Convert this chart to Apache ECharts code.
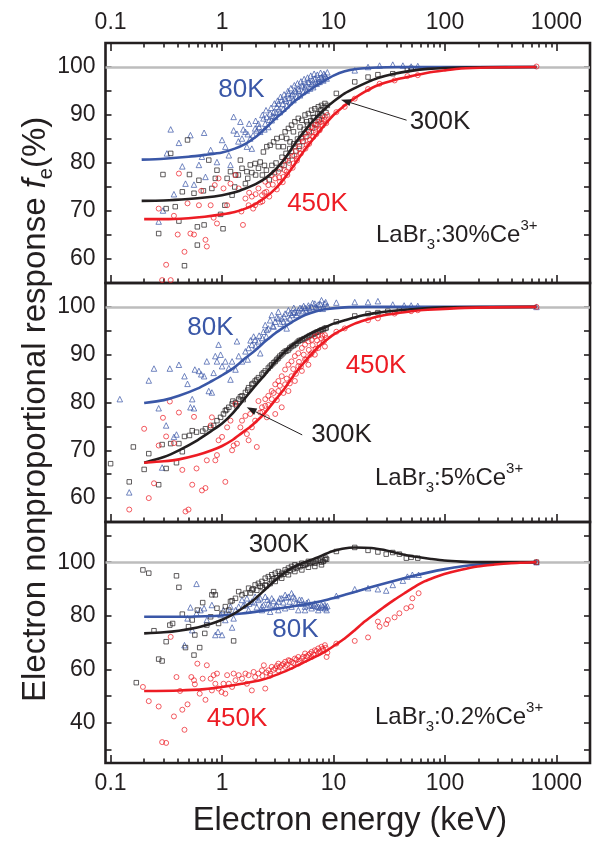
<!DOCTYPE html>
<html>
<head>
<meta charset="utf-8">
<script src="https://cdn.jsdelivr.net/npm/echarts@6/dist/echarts.min.js"></script>
<style>
  html, body { margin: 0; padding: 0; background: #fff; }
  #main { width: 597px; height: 845px; }
</style>
</head>
<body>
<div id="main"></div>
<script>
// ---- axis ticks / labels ----
var majorTicks = [0.1, 1, 10, 100, 1000];
var minorTicks = [0.2, 0.3, 0.4, 0.5, 0.6, 0.7, 0.8, 0.9,
  2, 3, 4, 5, 6, 7, 8, 9, 20, 30, 40, 50, 60, 70, 80, 90,
  200, 300, 400, 500, 600, 700, 800, 900];
var yTicksTop = [60, 65, 70, 75, 80, 85, 90, 95, 100];
var yLabelsTop = [60, 70, 80, 90, 100];
var yTicksBottom = [30, 40, 50, 60, 70, 80, 90, 100, 110];
var yLabelsBottom = [40, 60, 80, 100];

// ---- LaBr3:30%Ce (panel 1) ----
var p1_80K = [[0.346,87.0],[0.32,82.0],[0.41,84.2],[0.52,85.8],[0.69,86.3],[0.44,79.3],[0.47,75.7],[0.56,75.5],[0.37,73.5],[0.295,70.1],[0.27,67.8],[0.66,81.3],[0.79,82.7],[0.71,77.1],[0.62,79.6],[0.9,80.2],[1.0,84.8],[1.07,83.4],[1.15,81.6],[1.19,79.6],[1.27,89.6],[1.27,86.8],[1.36,86.1],[1.46,88.6],[1.51,85.1],[1.62,86.5],[1.67,83.4],[1.79,85.1],[1.85,83.0],[1.98,87.2],[2.12,88.2],[2.35,89.3],[2.52,89.6],[2.7,90.3],[2.9,90.6],[3.1,91.7],[3.2,92.4],[3.43,93.1],[3.68,93.4],[3.94,94.5],[4.2,94.1],[4.5,95.1],[4.83,95.5],[5.2,96.2],[5.55,95.8],[5.95,96.9],[6.36,96.5],[6.8,97.6],[7.3,96.9],[7.8,97.9],[8.37,98.3],[8.67,97.6],[2.79,88.9],[3.3,90.6],[3.8,92.0],[4.37,93.1],[5.0,94.1],[5.75,95.1],[6.58,95.8],[7.5,96.9],[3.55,91.3],[4.07,92.7],[4.67,93.8],[5.35,94.8],[6.15,95.5],[7.05,96.5],[8.1,97.2],[2.44,88.2],[3.0,89.6],[2.2,86.5],[2.6,87.5],[1.4,84.5],[1.55,87.0],[1.7,86.0],[1.75,88.2],[1.9,85.8],[2.0,88.8],[2.05,86.8],[2.15,87.5],[2.3,90.0],[2.4,87.0],[2.48,91.0],[2.65,89.0],[2.75,91.5],[2.85,89.8],[2.95,92.4],[3.05,90.5],[3.15,93.0],[3.25,91.2],[3.35,93.8],[3.5,92.3],[3.6,94.3],[3.75,93.0],[3.9,95.0],[4.0,93.6],[4.15,95.6],[4.3,94.4],[4.45,96.2],[4.6,94.9],[4.75,96.6],[4.9,95.1],[5.1,97.0],[5.3,96.0],[5.45,97.5],[5.65,96.4],[5.85,97.8],[6.05,96.8],[6.25,98.2],[6.45,97.3],[6.7,98.6],[6.9,97.0],[7.15,98.4],[7.4,97.6],[7.65,98.8],[7.9,97.4],[8.2,98.6],[8.5,98.0],[8.8,98.9],[15.5,99.3],[20.4,100],[25.9,100.3],[34,100.5],[41.9,100.3],[49.7,100.1],[57,100.2]];
var p1_300K = [[0.346,82.0],[0.295,77.6],[0.27,65.3],[0.315,70.5],[0.38,70.9],[0.41,67.9],[0.46,58.6],[0.44,74.0],[0.49,84.8],[0.51,77.6],[0.6,62.9],[0.6,66.7],[0.69,67.1],[0.56,73.7],[0.62,76.4],[0.68,74.2],[0.76,80.6],[0.81,74.7],[0.87,76.8],[0.9,78.5],[0.97,69.3],[1.02,66.3],[1.06,71.2],[1.11,76.8],[1.19,78.2],[1.23,73.3],[1.3,75.0],[1.32,77.5],[1.4,77.5],[1.46,80.6],[1.51,78.9],[1.62,75.7],[1.67,78.2],[1.7,76.8],[1.79,79.6],[1.85,78.0],[1.98,79.9],[2.0,77.5],[2.12,78.9],[2.2,80.2],[2.35,82.3],[2.4,79.5],[2.52,83.4],[2.7,83.7],[2.9,84.4],[3.1,85.1],[3.2,83.4],[3.43,85.4],[3.68,86.5],[3.94,87.2],[4.2,87.9],[4.5,88.6],[4.83,89.3],[5.2,88.9],[5.55,90.0],[5.95,90.3],[6.36,91.0],[6.8,91.3],[7.3,91.7],[7.8,92.0],[8.37,92.4],[3.8,85.1],[4.37,86.5],[5.0,87.5],[5.75,88.6],[6.58,89.4],[7.5,90.3],[3.55,83.4],[4.07,84.4],[2.3,77.5],[2.5,78.5],[2.65,76.5],[2.8,79.5],[2.95,78.0],[3.05,80.0],[3.3,78.8],[3.45,81.2],[3.6,79.5],[3.75,82.0],[3.9,80.5],[4.05,83.0],[4.25,81.5],[4.4,84.0],[4.6,82.5],[4.75,85.0],[4.95,83.5],[5.1,86.0],[5.3,84.5],[5.45,87.0],[5.65,85.5],[5.85,88.0],[6.05,86.5],[6.25,88.8],[6.5,87.3],[6.7,89.5],[6.95,88.0],[7.2,90.3],[7.45,89.0],[7.7,91.0],[7.95,89.8],[8.25,91.6],[8.55,90.5],[8.8,92.0],[10.6,94.5],[15.5,96.9],[20.4,97.9],[25,98.4],[34,98.6],[46,99.4],[49.7,99.7]];
var p1_450K = [[0.27,70.5],[0.315,58.8],[0.29,55.6],[0.346,55.6],[0.37,69.0],[0.4,65.1],[0.41,77.8],[0.46,61.5],[0.49,71.6],[0.52,65.3],[0.56,65.1],[0.62,71.2],[0.65,74.2],[0.71,64.0],[0.73,62.6],[0.79,71.2],[0.84,68.6],[0.86,75.4],[0.9,67.4],[0.93,76.8],[1.03,74.7],[1.11,71.2],[1.19,75.7],[1.32,77.5],[1.41,74.7],[1.49,69.9],[1.54,67.1],[1.62,72.6],[1.73,71.2],[1.75,73.8],[1.85,73.0],[1.9,70.5],[1.98,71.2],[2.0,73.5],[2.12,74.7],[2.2,71.8],[2.28,73.3],[2.4,73.8],[2.44,76.1],[2.6,75.4],[2.79,77.5],[3.0,76.8],[3.2,78.2],[3.43,79.6],[3.68,80.6],[3.94,81.3],[4.2,82.3],[4.5,83.4],[4.83,84.4],[5.2,85.1],[5.55,86.1],[5.95,86.8],[6.36,87.5],[6.8,87.9],[7.3,88.6],[7.8,89.1],[8.37,89.6],[10.6,90.6],[3.3,76.1],[3.8,78.2],[4.37,79.9],[5.0,82.0],[5.75,83.7],[6.58,85.4],[7.5,86.8],[3.55,77.1],[4.67,80.9],[6.15,84.8],[2.3,72.0],[2.5,74.0],[2.65,73.0],[2.85,75.5],[3.1,74.5],[3.25,77.0],[3.5,76.0],[3.65,78.5],[3.85,77.5],[4.0,80.0],[4.3,79.0],[4.45,81.5],[4.7,80.5],[4.9,83.0],[5.1,82.0],[5.35,84.5],[5.6,83.0],[5.8,85.5],[6.05,84.0],[6.3,86.5],[6.55,85.5],[6.75,87.3],[7.0,86.0],[7.2,88.0],[7.5,87.0],[7.7,88.5],[8.0,87.8],[8.3,89.0],[8.6,88.3],[8.8,90.0],[12.6,91.7],[15.5,93.4],[20.4,95.4],[25.9,96.5],[35.3,97.2],[46,98.1],[57,98.3],[662,100.1]];
var p1_80K_fit = [[0.19,80.7],[0.3,80.9],[0.5,81.3],[0.7,81.7],[1,82.2],[1.3,83.0],[1.62,84.0],[2,85.4],[2.44,87.2],[3,89.2],[3.68,91.0],[4.5,92.9],[5.55,94.5],[7,96.1],[8.37,97.2],[10,98.2],[12.6,99.1],[16,99.6],[20.4,99.8],[30,99.95],[50,100],[662,100]];
var p1_300K_fit = [[0.19,72.1],[0.3,72.2],[0.5,72.5],[0.7,72.8],[1,73.3],[1.3,73.9],[1.62,74.7],[2,75.6],[2.44,76.8],[3,78.6],[3.68,81.0],[4.5,84.0],[5.55,86.8],[7,89.5],[8.37,91.3],[10,92.8],[12.6,94.5],[15.5,95.6],[20,96.8],[25,97.7],[35,98.6],[49.7,99.2],[70,99.6],[98.6,99.8],[200,99.95],[662,100]];
var p1_450K_fit = [[0.2,68.3],[0.3,68.3],[0.5,68.5],[0.7,68.8],[1,69.3],[1.3,69.8],[1.62,70.5],[2,71.5],[2.44,72.8],[3,74.6],[3.68,77.0],[4.5,79.8],[5.55,82.8],[7,85.8],[8.37,88.0],[10,90.0],[12.6,92.0],[15.5,93.5],[19,94.8],[25,96.2],[35.3,97.3],[50,98.1],[70,98.8],[100,99.3],[139,99.7],[250,99.9],[662,100]];

// ---- LaBr3:5%Ce (panel 2) ----
var p2_80K = [[0.121,80.7],[0.147,61.2],[0.22,84.6],[0.245,87.1],[0.27,78.8],[0.315,75.2],[0.34,87.1],[0.37,72.8],[0.39,73.3],[0.29,66.4],[0.41,87.9],[0.46,85.5],[0.49,83.9],[0.52,79.0],[0.56,78.8],[0.54,80.7],[0.57,86.9],[0.62,86.6],[0.65,85.9],[0.69,85.5],[0.73,88.6],[0.76,82.4],[0.81,82.1],[0.84,86.2],[0.87,89.7],[0.9,88.6],[0.93,92.1],[0.97,90.0],[1,87.6],[1.07,88.6],[1.15,87.2],[1.19,84.8],[1.23,88.6],[1.32,86.9],[1.36,92.8],[1.41,89.7],[1.51,88.6],[1.62,90.7],[1.7,89.0],[1.73,91.4],[1.8,93.0],[1.85,92.1],[1.92,93.8],[1.98,93.1],[2.0,91.8],[2.12,92.8],[2.15,94.0],[2.2,90.3],[2.3,93.5],[2.35,94.8],[2.44,96.2],[2.5,93.8],[2.52,95.2],[2.6,95.5],[2.7,97.2],[2.79,98.3],[2.85,96.0],[2.9,95.9],[3.0,96.9],[3.1,97.8],[3.2,99.0],[3.35,96.5],[3.43,97.6],[3.6,98.0],[3.68,98.6],[3.8,95.5],[3.85,97.0],[3.94,99.3],[4.1,98.8],[4.2,98.3],[4.4,99.8],[4.5,99.0],[4.75,98.8],[4.83,99.3],[5.0,99.8],[5.2,99.7],[5.4,100.2],[5.55,99.8],[5.7,99.3],[5.95,100.3],[6.0,99.8],[6.36,100],[6.5,100.8],[6.8,100.7],[6.9,100.0],[7.2,99.6],[7.3,100.5],[7.6,100.6],[7.8,101.4],[8.0,99.6],[8.37,100.7],[8.5,101.0],[8.8,100.2],[3.2,97.6],[3.55,96.9],[4.07,97.6],[4.37,98.8],[4.67,98.3],[5.35,99.1],[6.15,99.5],[7.05,99.8],[8.1,100],[10.6,100.9],[15.5,101.0],[20.4,101.0],[25,101.2],[34,100.5],[43,100.3],[49.7,100.3],[57,100.2],[662,100]];
var p2_300K = [[0.1,67.2],[0.147,63.4],[0.16,70.7],[0.2,66.0],[0.22,69.3],[0.27,62.8],[0.29,71.2],[0.315,66.2],[0.346,71.4],[0.39,67.4],[0.41,71.4],[0.44,69.7],[0.46,72.9],[0.51,73.1],[0.54,74.1],[0.59,73.8],[0.67,74.0],[0.71,74.5],[0.79,74.8],[0.84,75.2],[0.9,76.2],[0.97,76.9],[1.03,77.6],[1.07,78.3],[1.1,78.5],[1.15,79.0],[1.23,79.7],[1.25,80.3],[1.32,80.0],[1.35,79.3],[1.41,80.7],[1.46,81.2],[1.51,81.4],[1.55,80.6],[1.62,82.1],[1.7,82.6],[1.73,83.1],[1.85,83.8],[1.9,84.0],[1.98,84.5],[2.05,84.8],[2.12,85.2],[2.28,85.9],[2.35,86.2],[2.44,86.6],[2.6,87.2],[2.7,87.6],[2.79,87.9],[2.9,88.3],[3.0,88.6],[3.1,89.0],[3.2,89.3],[3.3,89.7],[3.43,90.0],[3.55,90.4],[3.68,90.7],[3.8,90.8],[3.94,91.0],[4.05,91.4],[4.2,91.7],[4.35,91.9],[4.5,92.1],[4.65,92.4],[4.83,92.8],[5.0,93.0],[5.2,93.1],[5.4,93.3],[5.55,93.4],[5.75,93.6],[5.95,93.8],[6.15,94.0],[6.36,94.1],[6.6,94.3],[6.8,94.5],[7.05,94.7],[7.3,94.8],[7.55,95.0],[7.8,95.2],[8.1,95.3],[8.37,95.5],[8.6,95.6],[10.6,96.9],[15.5,98.1],[20.4,98.6],[25,98.8],[30.7,99.1],[39,99.3]];
var p2_450K = [[0.147,57.6],[0.2,74.5],[0.22,60.0],[0.245,63.1],[0.27,71.0],[0.295,76.8],[0.315,72.9],[0.34,80.2],[0.37,71.5],[0.41,77.9],[0.44,65.9],[0.47,57.2],[0.5,57.6],[0.54,62.8],[0.56,77.0],[0.59,66.2],[0.66,61.6],[0.71,62.1],[0.73,67.9],[0.79,75.2],[0.81,76.9],[0.87,67.9],[0.9,69.0],[0.93,72.1],[1,72.8],[1.07,63.4],[1.11,74.8],[1.19,76.2],[1.23,70.0],[1.27,71.0],[1.32,79.7],[1.36,71.4],[1.46,74.8],[1.51,76.2],[1.62,77.2],[1.67,73.4],[1.73,72.1],[1.79,77.6],[1.85,74.8],[1.98,76.2],[2.05,70.7],[2.12,80.3],[2.2,77.9],[2.28,79.0],[2.3,78.0],[2.44,80.7],[2.52,76.9],[2.6,81.4],[2.6,79.5],[2.79,82.4],[2.9,82.0],[3.0,83.8],[3.1,80.5],[3.2,84.5],[3.3,83.5],[3.43,85.5],[3.55,82.0],[3.68,86.9],[3.8,85.0],[3.94,87.9],[4.05,84.0],[4.2,88.6],[4.35,87.0],[4.5,89.7],[4.6,86.0],[4.83,90.3],[4.9,88.5],[5.1,87.5],[5.2,91.4],[5.4,90.0],[5.55,92.1],[5.7,89.0],[5.95,92.8],[6.0,91.0],[6.2,90.0],[6.36,93.1],[6.5,92.0],[6.8,93.8],[6.9,91.2],[7.1,93.0],[7.3,94.1],[7.5,92.2],[7.8,93.4],[7.9,94.0],[8.2,92.8],[8.37,94.1],[8.6,93.5],[2.44,79.3],[2.79,80.7],[3.2,82.4],[3.68,83.8],[4.2,85.5],[4.83,87.6],[5.55,89.0],[6.36,90.3],[7.3,91.4],[8.37,91.7],[3.0,77.6],[3.43,79.0],[3.94,82.4],[4.5,84.5],[5.2,86.6],[5.95,87.9],[6.8,90.0],[10.6,94.8],[12.6,95.5],[20.4,97.2],[25,97.6],[35.3,98.6],[49.7,99.1],[57,99.3],[662,100]];
var p2_80K_fit = [[0.2,79.9],[0.3,80.5],[0.41,81.4],[0.6,82.9],[0.81,84.5],[1,85.7],[1.3,87.4],[1.62,89.3],[2,91.0],[2.44,92.8],[3,94.5],[3.68,95.9],[4.5,97.2],[5.55,98.3],[7,99.1],[8.37,99.5],[12.6,99.9],[20,100],[662,100]];
var p2_300K_fit = [[0.2,67.4],[0.3,68.6],[0.41,70.0],[0.6,72.1],[0.81,74.1],[1,75.6],[1.23,77.6],[1.62,81.0],[2,83.6],[2.44,85.9],[3,88.5],[3.68,90.7],[4.5,92.4],[5.55,93.8],[7,95.0],[8.37,95.7],[10,96.5],[12.6,97.2],[18,98.2],[25,98.8],[35,99.2],[49.7,99.5],[98.6,99.9],[662,100]];
var p2_450K_fit = [[0.2,67.4],[0.3,67.7],[0.41,68.1],[0.6,69.0],[0.81,70.0],[1,70.9],[1.23,72.1],[1.5,73.6],[1.85,75.2],[2.2,76.8],[2.44,77.9],[3,80.5],[3.68,83.1],[4.5,86.0],[5.55,88.6],[7,91.2],[8.37,92.8],[10,94.2],[12.6,95.5],[15.5,96.5],[19,97.2],[25,98.0],[35.3,98.6],[50,99.1],[70,99.4],[150,99.8],[662,100]];

// ---- LaBr3:0.2%Ce (panel 3) ----
var p3_80K = [[0.46,69.0],[0.59,91.9],[0.49,79.0],[0.52,83.1],[0.54,74.6],[0.59,80.9],[0.64,82.1],[0.69,82.8],[0.73,78.4],[0.81,84.0],[0.87,72.8],[0.92,74.0],[0.97,80.3],[1,72.8],[1.03,82.1],[1.07,78.4],[1.15,80.9],[1.19,83.4],[1.23,75.6],[1.27,79.0],[1.32,82.1],[1.41,83.4],[1.51,85.9],[1.55,83.8],[1.62,84.0],[1.67,86.5],[1.73,82.1],[1.75,84.5],[1.85,85.3],[1.95,85.0],[1.98,87.1],[2.05,83.2],[2.12,85.9],[2.2,86.5],[2.28,83.4],[2.35,84.0],[2.44,87.1],[2.55,86.0],[2.6,84.6],[2.7,84.0],[2.79,86.5],[2.9,85.5],[3.0,83.4],[3.1,84.0],[3.2,85.3],[3.3,86.5],[3.43,86.5],[3.55,85.0],[3.68,87.8],[3.8,86.8],[3.94,87.1],[4.05,85.3],[4.2,88.4],[4.35,87.2],[4.5,86.5],[4.6,84.8],[4.83,84.6],[4.95,86.0],[5.2,85.9],[5.35,84.5],[5.55,83.4],[5.75,84.8],[5.95,85.3],[6.15,83.8],[6.36,84.0],[6.6,83.8],[6.8,84.6],[7.05,83.5],[7.3,83.4],[7.55,83.0],[7.8,84.0],[8.0,83.5],[8.37,82.8],[8.5,83.2],[8.67,82.1],[8.8,83.6],[3.2,82.1],[3.68,82.8],[4.2,83.4],[4.83,82.1],[5.55,82.1],[6.36,82.8],[7.3,82.1],[8.37,84.0],[2.28,82.1],[2.7,81.5],[10.6,87.4],[15.5,89.9],[20.4,90.3],[25,89.9],[29.7,89.4],[34,91.5],[41.9,93.1],[46,94.6],[51,95.3],[58,95.3],[662,100]];
var p3_300K = [[0.17,55.0],[0.195,97.1],[0.22,95.9],[0.245,74.4],[0.27,63.8],[0.29,63.1],[0.315,70.3],[0.34,76.5],[0.36,77.1],[0.39,94.9],[0.41,90.6],[0.44,80.6],[0.47,68.1],[0.5,75.9],[0.54,78.4],[0.56,65.3],[0.57,72.8],[0.6,82.1],[0.63,68.1],[0.67,84.9],[0.7,73.4],[0.73,76.5],[0.79,79.6],[0.81,87.8],[0.84,89.0],[0.87,87.8],[0.9,82.8],[0.93,77.1],[1,80.9],[1.07,83.4],[1.15,82.1],[1.19,85.3],[1.23,85.6],[1.27,70.6],[1.32,86.5],[1.41,89.0],[1.51,87.8],[1.62,88.4],[1.73,90.3],[1.8,88.5],[1.85,89.6],[1.9,90.0],[1.98,91.5],[2.05,89.5],[2.12,92.1],[2.2,91.0],[2.28,92.8],[2.3,90.5],[2.44,94.0],[2.5,91.2],[2.6,94.6],[2.7,92.0],[2.79,95.3],[2.9,93.8],[3.0,95.9],[3.1,94.2],[3.2,96.5],[3.3,95.0],[3.43,95.9],[3.55,95.5],[3.68,97.1],[3.8,96.3],[3.94,97.8],[4.05,96.8],[4.2,98.4],[4.35,97.5],[4.5,99.0],[4.65,97.8],[4.83,98.6],[5.0,98.3],[5.2,99.6],[5.35,98.8],[5.55,99.0],[5.7,99.3],[5.95,100.3],[6.1,99.5],[6.36,99.9],[6.55,100.2],[6.8,99.6],[7.0,100.4],[7.3,100.6],[7.55,100.8],[7.8,100],[8.1,100.3],[8.37,100.9],[8.5,101.5],[8.67,101.1],[3.0,92.8],[3.43,94.0],[3.94,95.3],[4.5,96.5],[5.2,97.1],[5.95,98.1],[6.8,98.4],[7.8,99.0],[2.44,91.5],[2.79,93.1],[10.6,104.0],[15.5,105.5],[20.4,104.4],[25,103.8],[29.7,103.0],[34,103.6],[39,103.0],[45,101.5],[49.7,101.8],[57,101.5],[662,100]];
var p3_450K = [[0.195,53.4],[0.22,48.1],[0.27,46.1],[0.29,32.8],[0.315,32.5],[0.346,72.1],[0.37,42.4],[0.39,57.1],[0.42,51.9],[0.44,44.9],[0.46,37.4],[0.49,46.9],[0.53,57.1],[0.56,55.9],[0.57,54.4],[0.6,62.1],[0.63,50.9],[0.67,56.5],[0.71,48.6],[0.73,61.5],[0.79,56.5],[0.81,52.1],[0.84,57.8],[0.87,54.6],[0.9,58.4],[0.93,52.8],[0.99,51.5],[1.03,54.6],[1.07,50.9],[1.11,57.8],[1.15,54.6],[1.23,53.4],[1.27,58.4],[1.32,55.9],[1.41,57.8],[1.51,56.5],[1.62,58.4],[1.67,54.6],[1.73,57.8],[1.85,52.1],[1.92,59.0],[1.98,57.1],[2.12,58.4],[2.28,59.6],[2.3,57.5],[2.37,61.5],[2.44,52.8],[2.5,58.8],[2.6,59.6],[2.7,57.6],[2.79,60.9],[2.9,59.8],[3.0,60.3],[3.1,61.2],[3.2,62.1],[3.3,60.8],[3.43,61.5],[3.55,62.0],[3.68,62.8],[3.8,61.6],[3.94,63.4],[4.05,63.2],[4.2,62.8],[4.35,62.3],[4.5,64.0],[4.65,63.6],[4.83,64.6],[4.95,63.1],[5.2,64.0],[5.35,64.7],[5.55,65.9],[5.75,64.8],[5.95,65.3],[6.15,65.8],[6.36,66.5],[6.6,65.5],[6.8,67.1],[7.05,66.8],[7.3,67.8],[7.55,66.6],[7.8,68.4],[8.0,67.6],[8.37,69.0],[8.5,68.0],[8.67,64.6],[8.8,66.2],[3.2,59.6],[3.68,60.9],[4.2,60.9],[4.83,62.1],[5.55,63.4],[6.36,64.6],[7.3,65.9],[8.1,67.1],[2.7,58.4],[10.6,69.6],[15.5,70.6],[20.4,71.9],[25,77.8],[25.9,75.9],[29.7,76.9],[30.7,78.4],[35.3,79.4],[39,80.9],[45,82.8],[49.7,83.4],[51,86.5],[58,88.4],[662,100]];
var p3_80K_fit = [[0.2,79.6],[0.41,79.6],[0.7,79.8],[1,80.1],[1.5,80.8],[2.28,81.8],[3.2,82.7],[4.5,83.6],[6.4,84.7],[8.96,86.1],[12.6,87.8],[17.8,89.6],[25,91.4],[35.3,93.1],[50,94.7],[70,96.1],[100,97.4],[139,98.4],[200,99.1],[276,99.5],[400,99.8],[662,100]];
var p3_300K_fit = [[0.2,73.4],[0.3,73.8],[0.41,74.4],[0.6,75.6],[0.81,77.1],[1,78.5],[1.23,80.3],[1.5,82.6],[1.85,85.3],[2.3,88.8],[2.8,92.1],[3.4,95.2],[4.22,97.8],[5.2,99.6],[6.36,100.9],[8,102.6],[9.6,104.0],[12,105.0],[15.5,105.5],[21.8,105.3],[28,104.6],[35.3,103.6],[45,102.6],[57,101.9],[75,101.2],[98.6,100.6],[140,100.2],[196,100],[662,100]];
var p3_450K_fit = [[0.2,51.9],[0.41,52.1],[0.7,52.6],[1,53.4],[1.5,54.6],[2.28,56.1],[3.2,58.2],[4.5,60.9],[6.2,63.8],[8.37,66.5],[10.3,69.0],[12.6,71.5],[15.5,74.6],[19,77.8],[23.5,80.7],[28.7,83.4],[35.3,86.0],[43.3,88.4],[53,90.7],[65.4,92.8],[80,94.3],[98.6,95.6],[140,97.2],[196,98.4],[280,99.1],[388,99.6],[500,99.8],[662,100]];

var INK = '#231f20', BLUE = '#3a57a7', RED = '#ed1c24', GRAY = '#bdbdbd';
var FONT = "'Liberation Sans', Arial, sans-serif";

var myChart = echarts.init(document.getElementById('main'));

var panels = [
  { top: 43, height: 240, min: 55, max: 105, ticks: yTicksTop, labels: yLabelsTop,
    sets: [[p1_80K, p1_80K_fit], [p1_300K, p1_300K_fit], [p1_450K, p1_450K_fit]] },
  { top: 283, height: 239, min: 55, max: 105, ticks: yTicksTop, labels: yLabelsTop,
    sets: [[p2_80K, p2_80K_fit], [p2_300K, p2_300K_fit], [p2_450K, p2_450K_fit]] },
  { top: 522, height: 241, min: 25, max: 115, ticks: yTicksBottom, labels: yLabelsBottom,
    sets: [[p3_80K, p3_80K_fit], [p3_300K, p3_300K_fit], [p3_450K, p3_450K_fit]] }
];
var looks = [
  { color: BLUE, symbol: 'triangle', size: 5.5 },
  { color: INK, symbol: 'rect', size: 4.5 },
  { color: RED, symbol: 'circle', size: 5 }
];

var grids = [], xAxes = [], yAxes = [], series = [];

function xAxisFor(g, pos, values, len, withLabels) {
  return {
    type: 'log', logBase: 10, gridIndex: g, position: pos, min: 0.09, max: 2000,
    axisLine: { show: false },
    axisTick: { show: true, inside: true, length: len, customValues: values,
      lineStyle: { color: INK, width: 1.6 } },
    axisLabel: { show: withLabels, customValues: values, margin: 9,
      color: INK, fontSize: 23, fontFamily: FONT,
      formatter: function (v) { return String(+(+v).toPrecision(3)); } },
    minorTick: { show: false },
    splitLine: { show: false }
  };
}

panels.forEach(function (p, g) {
  grids.push({ left: 105.5, width: 484.5, top: p.top, height: p.height, show: true,
    borderColor: INK, borderWidth: 2.6, backgroundColor: 'transparent',
    outerBoundsMode: 'none' });

  var dataX = xAxes.length;
  xAxes.push(xAxisFor(g, 'bottom', majorTicks, 8, g === 2));
  xAxes.push(xAxisFor(g, 'bottom', minorTicks, 4.5, false));
  if (g === 0) {
    xAxes.push(xAxisFor(g, 'top', majorTicks, 8, true));
    xAxes.push(xAxisFor(g, 'top', minorTicks, 4.5, false));
  }

  var dataY = yAxes.length;
  ['left', 'right'].forEach(function (side) {
    yAxes.push({
      type: 'value', gridIndex: g, position: side, min: p.min, max: p.max,
      axisLine: { show: false },
      axisTick: { show: true, inside: true, length: 6, customValues: p.ticks,
        lineStyle: { color: INK, width: 1.6 } },
      axisLabel: { show: side === 'left', customValues: p.labels, margin: 10,
        color: INK, fontSize: 23, fontFamily: FONT },
      splitLine: { show: false }
    });
  });

  p.sets.forEach(function (set, k) {
    var lk = looks[k];
    var s = {
      type: 'scatter', xAxisIndex: dataX, yAxisIndex: dataY, data: set[0],
      symbol: lk.symbol, symbolSize: lk.size, z: 3, silent: true,
      itemStyle: { color: 'rgba(255,255,255,0)', borderColor: lk.color, borderWidth: 0.9 }
    };
    if (k === 0) {
      s.markLine = { silent: true, symbol: 'none', z: 2, animation: false,
        label: { show: false },
        lineStyle: { color: GRAY, width: 2.6, type: 'solid' },
        data: [{ yAxis: 100 }] };
    }
    series.push(s);
  });
  p.sets.forEach(function (set, k) {
    series.push({
      type: 'line', xAxisIndex: dataX, yAxisIndex: dataY, data: set[1],
      showSymbol: false, smooth: 0.25, z: 5, silent: true,
      lineStyle: { color: looks[k].color, width: 2.6 }
    });
  });
});

// annotations (pixel positions)
function label(txt, x, y, color) {
  return { type: 'text', x: x, y: y, z: 20,
    style: { text: txt, fill: color, font: "26px " + FONT, textAlign: 'center', textVerticalAlign: 'middle' } };
}
function compound(pct, x, y) {
  return { type: 'text', x: x, y: y, z: 20,
    style: { text: '{m|LaBr}{d|3}{m|:' + pct + 'Ce}{u|3+}', textAlign: 'left', textVerticalAlign: 'middle',
      lineHeight: 34,
      rich: {
        m: { fontSize: 24, fontFamily: FONT, fill: INK, lineHeight: 34, verticalAlign: 'middle' },
        d: { fontSize: 15, fontFamily: FONT, fill: INK, lineHeight: 34, verticalAlign: 'bottom' },
        u: { fontSize: 15, fontFamily: FONT, fill: INK, lineHeight: 34, verticalAlign: 'top' }
      } } };
}
function arrow(x1, y1, x2, y2) {
  var dx = x2 - x1, dy = y2 - y1, L = Math.sqrt(dx * dx + dy * dy);
  var ux = dx / L, uy = dy / L, hl = 10, hw = 3.5;
  var bx = x2 - ux * hl, by = y2 - uy * hl;
  return [
    { type: 'line', z: 20, shape: { x1: x1, y1: y1, x2: bx, y2: by }, style: { stroke: INK, lineWidth: 1 } },
    { type: 'polygon', z: 20, shape: { points: [[x2, y2], [bx - uy * hw, by + ux * hw], [bx + uy * hw, by - ux * hw]] },
      style: { fill: INK } }
  ];
}

var graphics = [
  label('80K', 241.5, 90, BLUE), label('300K', 440, 121.5, INK), label('450K', 317.5, 204, RED),
  compound('30%', 376, 235),
  label('80K', 210.5, 328, BLUE), label('450K', 376, 366, RED), label('300K', 341.5, 435, INK),
  compound('5%', 375, 478.5),
  label('300K', 279, 545, INK), label('80K', 295.5, 629.5, BLUE), label('450K', 237, 719, RED),
  compound('0.2%', 375, 717),
  // axis titles
  { type: 'text', x: 350, y: 821, z: 20,
    style: { text: 'Electron energy (keV)', fill: INK, font: "32.5px " + FONT,
      textAlign: 'center', textVerticalAlign: 'middle' } },
  { type: 'text', x: 36, y: 702, rotation: Math.PI / 2, z: 20,
    style: { text: '{n|Electron nonproportional response }{i|f}{s|e}{n|(%)}',
      textAlign: 'left', textVerticalAlign: 'middle', lineHeight: 40,
      rich: {
        n: { fontSize: 33, fontFamily: FONT, fill: INK, lineHeight: 40, verticalAlign: 'middle' },
        i: { fontSize: 33, fontFamily: FONT, fill: INK, fontStyle: 'italic', lineHeight: 40, verticalAlign: 'middle' },
        s: { fontSize: 20, fontFamily: FONT, fill: INK, lineHeight: 40, verticalAlign: 'bottom' }
      } } }
].concat(arrow(406.6, 120.2, 341, 99.7)).concat(arrow(302.2, 434.9, 246.7, 407.3));

var option = {
  animation: false,
  backgroundColor: '#ffffff',
  textStyle: { fontFamily: FONT },
  grid: grids,
  xAxis: xAxes,
  yAxis: yAxes,
  series: series,
  graphic: graphics
};
option && myChart.setOption(option);
</script>
</body>
</html>
